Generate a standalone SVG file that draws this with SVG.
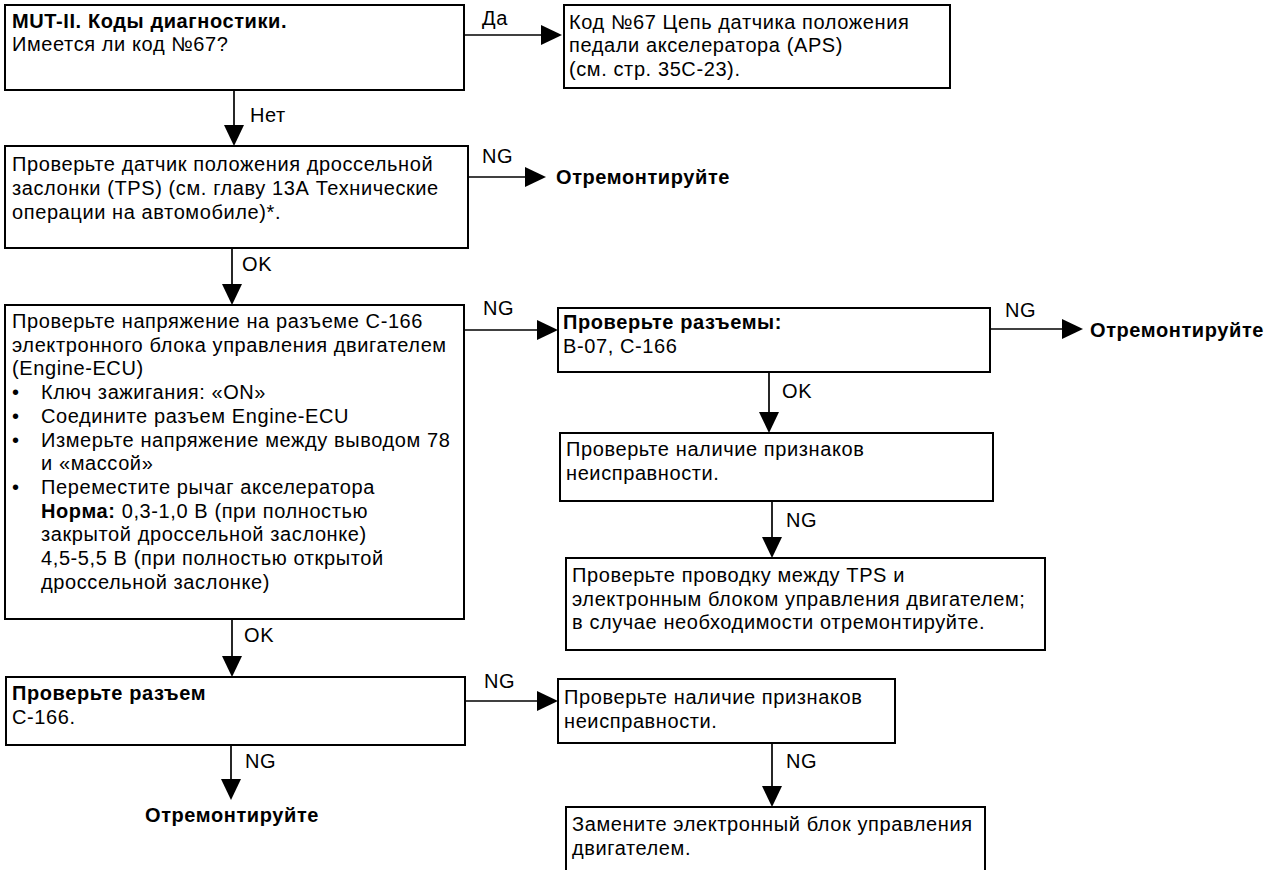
<svg xmlns="http://www.w3.org/2000/svg" width="1276" height="870" viewBox="0 0 1276 870">
  <style>
    text { font-family: "Liberation Sans", Arial, sans-serif; font-size: 20px; letter-spacing: 0.6px; fill: #000; }
    .b { font-weight: bold; }
    .box { fill: #fff; stroke: #000; stroke-width: 2; }
    .link { fill: none; stroke: #000; stroke-width: 1.7; marker-end: url(#head); }
  </style>
  <defs>
    <marker id="head" markerUnits="userSpaceOnUse" markerWidth="21" markerHeight="20" refX="0" refY="10" orient="auto" overflow="visible">
      <path d="M0,0 L21,10 L0,20 Z" fill="#000"/>
    </marker>
  </defs>
  <rect width="1276" height="870" fill="#fff"/>

  <!-- connectors: each line stops at the base of its arrowhead -->
  <g id="connectors">
    <line class="link" x1="464" y1="35" x2="541" y2="35"/>
    <text x="482" y="25">Да</text>
    <line class="link" x1="234" y1="90" x2="234" y2="125"/>
    <text x="250" y="122">Нет</text>
    <line class="link" x1="468" y1="177" x2="525" y2="177"/>
    <text x="482" y="163">NG</text>
    <line class="link" x1="232" y1="248" x2="232" y2="284"/>
    <text x="242" y="271">OK</text>
    <line class="link" x1="464" y1="330" x2="537" y2="330"/>
    <text x="483" y="315">NG</text>
    <line class="link" x1="990" y1="329" x2="1062" y2="329"/>
    <text x="1005" y="317">NG</text>
    <line class="link" x1="769" y1="372" x2="769" y2="412"/>
    <text x="782" y="398">OK</text>
    <line class="link" x1="772" y1="501" x2="772" y2="537"/>
    <text x="786" y="527">NG</text>
    <line class="link" x1="232" y1="619" x2="232" y2="656"/>
    <text x="244" y="642">OK</text>
    <line class="link" x1="465" y1="701" x2="537" y2="701"/>
    <text x="484" y="688">NG</text>
    <line class="link" x1="772" y1="743" x2="772" y2="786"/>
    <text x="786" y="768">NG</text>
    <line class="link" x1="231" y1="745" x2="231" y2="779"/>
    <text x="245" y="768">NG</text>
  </g>

  <g id="n-codes">
    <rect class="box" x="5" y="5" width="459" height="85"/>
    <text x="12" y="27.5" class="b">MUT-II. Коды диагностики.</text>
    <text x="12" y="51">Имеется ли код №67?</text>
  </g>

  <g id="n-code67">
    <rect class="box" x="564" y="5" width="386" height="83"/>
    <text x="569" y="28.5">Код №67 Цепь датчика положения</text>
    <text x="569" y="52">педали акселератора (APS)</text>
    <text x="569" y="75.5">(см. стр. 35С-23).</text>
  </g>

  <g id="n-tps">
    <rect class="box" x="5" y="146" width="463" height="102"/>
    <text x="12" y="171">Проверьте датчик положения дроссельной</text>
    <text x="12" y="195">заслонки (TPS) (см. главу 13А Технические</text>
    <text x="12" y="219">операции на автомобиле)*.</text>
  </g>

  <g id="n-repair1">
    <text x="556" y="184" class="b">Отремонтируйте</text>
  </g>

  <g id="n-voltage">
    <rect class="box" x="5" y="305" width="459" height="314"/>
    <text x="12" y="328">Проверьте напряжение на разъеме С-166</text>
    <text x="12" y="351.7">электронного блока управления двигателем</text>
    <text x="12" y="375.4">(Engine-ECU)</text>
    <text x="12" y="399.1">•</text>
    <text x="41" y="399.1">Ключ зажигания: «ON»</text>
    <text x="12" y="422.8">•</text>
    <text x="41" y="422.8">Соедините разъем Engine-ECU</text>
    <text x="12" y="446.5">•</text>
    <text x="41" y="446.5">Измерьте напряжение между выводом 78</text>
    <text x="41" y="470.2">и «массой»</text>
    <text x="12" y="493.9">•</text>
    <text x="41" y="493.9">Переместите рычаг акселератора</text>
    <text x="41" y="517.6"><tspan class="b">Норма:</tspan> 0,3-1,0 В (при полностью</text>
    <text x="41" y="541.3">закрытой дроссельной заслонке)</text>
    <text x="41" y="565">4,5-5,5 В (при полностью открытой</text>
    <text x="41" y="588.7">дроссельной заслонке)</text>
  </g>

  <g id="n-connectors">
    <rect class="box" x="558" y="308" width="432" height="64"/>
    <text x="563" y="329" class="b">Проверьте разъемы:</text>
    <text x="563" y="353">B-07, C-166</text>
  </g>

  <g id="n-repair2">
    <text x="1090" y="337" class="b">Отремонтируйте</text>
  </g>

  <g id="n-symptoms1">
    <rect class="box" x="560" y="433" width="433" height="68"/>
    <text x="566" y="456">Проверьте наличие признаков</text>
    <text x="566" y="479.7">неисправности.</text>
  </g>

  <g id="n-wiring">
    <rect class="box" x="566" y="558" width="479" height="92"/>
    <text x="572" y="582">Проверьте проводку между TPS и</text>
    <text x="572" y="605.7">электронным блоком управления двигателем;</text>
    <text x="572" y="629.4">в случае необходимости отремонтируйте.</text>
  </g>

  <g id="n-c166">
    <rect class="box" x="6" y="677" width="459" height="68"/>
    <text x="12" y="700" class="b">Проверьте разъем</text>
    <text x="12" y="724">С-166.</text>
  </g>

  <g id="n-repair3">
    <text x="232" y="822" class="b" text-anchor="middle">Отремонтируйте</text>
  </g>

  <g id="n-symptoms2">
    <rect class="box" x="558" y="679" width="337" height="64"/>
    <text x="564" y="704">Проверьте наличие признаков</text>
    <text x="564" y="727.7">неисправности.</text>
  </g>

  <g id="n-replace">
    <rect class="box" x="566" y="807" width="419" height="80"/>
    <text x="572" y="831">Замените электронный блок управления</text>
    <text x="572" y="854.7">двигателем.</text>
  </g>
</svg>
